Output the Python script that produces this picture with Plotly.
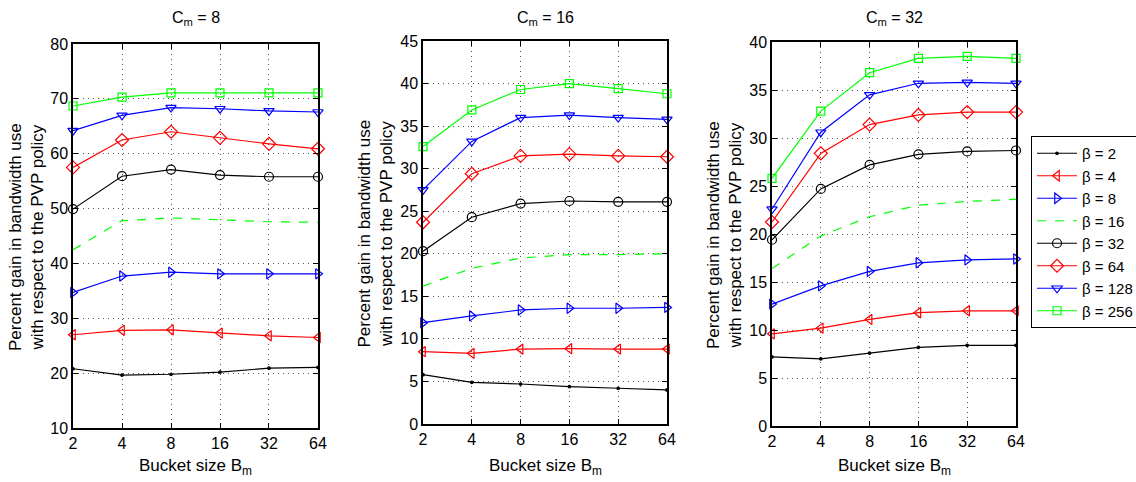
import math
import plotly.graph_objects as go

W, H = 1136, 482

bucket = [2, 4, 8, 16, 32, 64]
betas = ["β = 2", "β = 4", "β = 8", "β = 16", "β = 32", "β = 64", "β = 128", "β = 256"]

cm8 = {
    "β = 2":   [20.8, 19.65, 19.8, 20.2, 20.9, 21.05],
    "β = 4":   [27.0, 27.8, 27.9, 27.3, 26.8, 26.5],
    "β = 8":   [34.7, 37.7, 38.4, 38.1, 38.1, 38.1],
    "β = 16":  [42.5, 47.8, 48.3, 47.9, 47.6, 47.5],
    "β = 32":  [49.9, 55.9, 57.1, 56.1, 55.8, 55.8],
    "β = 64":  [57.5, 62.5, 64.0, 62.9, 61.8, 60.9],
    "β = 128": [64.2, 67.0, 68.4, 68.2, 67.8, 67.6],
    "β = 256": [68.7, 70.3, 71.1, 71.1, 71.1, 71.1],
}
cm16 = {
    "β = 2":   [5.8, 4.9, 4.7, 4.4, 4.2, 4.0],
    "β = 4":   [8.5, 8.3, 8.8, 8.85, 8.8, 8.8],
    "β = 8":   [11.9, 12.7, 13.4, 13.6, 13.6, 13.7],
    "β = 16":  [16.2, 18.3, 19.5, 19.9, 19.9, 20.0],
    "β = 32":  [20.3, 24.3, 25.9, 26.2, 26.1, 26.1],
    "β = 64":  [23.7, 29.4, 31.5, 31.7, 31.5, 31.4],
    "β = 128": [27.5, 33.2, 36.0, 36.3, 36.0, 35.8],
    "β = 256": [32.6, 36.9, 39.3, 40.0, 39.4, 38.8],
}
cm32 = {
    "β = 2":   [7.2, 7.0, 7.6, 8.2, 8.4, 8.4],
    "β = 4":   [9.6, 10.2, 11.1, 11.8, 12.0, 12.0],
    "β = 8":   [12.7, 14.6, 16.1, 17.0, 17.3, 17.4],
    "β = 16":  [16.4, 19.8, 21.8, 23.0, 23.4, 23.6],
    "β = 32":  [19.4, 24.7, 27.2, 28.3, 28.6, 28.7],
    "β = 64":  [21.25, 28.4, 31.4, 32.4, 32.7, 32.7],
    "β = 128": [22.6, 30.6, 34.5, 35.7, 35.8, 35.7],
    "β = 256": [25.8, 32.8, 36.8, 38.3, 38.5, 38.3],
}
panels = [cm8, cm16, cm32]
panel_titles = ["C<sub>m</sub> = 8", "C<sub>m</sub> = 16", "C<sub>m</sub> = 32"]
y_ranges = [[10, 80], [0, 45], [0, 40]]
y_dticks = [10, 5, 5]

styles = {
    "β = 2":   dict(color="#000000", symbol="circle", size=2.5, dash="solid"),
    "β = 4":   dict(color="#FF0000", symbol="triangle-left-open", size=9, dash="solid"),
    "β = 8":   dict(color="#0000FF", symbol="triangle-right-open", size=9, dash="solid"),
    "β = 16":  dict(color="#00FF00", symbol=None, size=0, dash="dash"),
    "β = 32":  dict(color="#000000", symbol="circle-open", size=9, dash="solid"),
    "β = 64":  dict(color="#FF0000", symbol="diamond-open", size=10, dash="solid"),
    "β = 128": dict(color="#0000FF", symbol="triangle-down-open", size=9, dash="solid"),
    "β = 256": dict(color="#00FF00", symbol="square-open", size=8, dash="solid"),
}

# pixel boxes of plot areas: (left, right, top, bottom)
boxes = [(73, 318, 44, 428), (423, 667, 41, 424), (772, 1016, 42, 426)]
ytitle_x = [26, 375, 724]

def px_x(p):
    return p / W

def px_y(p):
    return 1 - p / H

fig = go.Figure()
FONT = "Liberation Sans, Arial, sans-serif"
xr = [math.log10(bucket[0]) - 1e-4, math.log10(bucket[-1]) + 1e-4]

for i, (data, box) in enumerate(zip(panels, boxes)):
    xa = "x" if i == 0 else f"x{i+1}"
    ya = "y" if i == 0 else f"y{i+1}"
    for b in betas:
        st = styles[b]
        mode = "lines" if st["symbol"] is None else "lines+markers"
        kw = dict(
            x=bucket, y=data[b], name=b, mode=mode, xaxis=xa, yaxis=ya,
            line=dict(color=st["color"], width=1.2, dash=st["dash"]),
            showlegend=(i == 2), cliponaxis=False, legendgroup=b,
        )
        if st["symbol"] is not None:
            kw["marker"] = dict(symbol=st["symbol"], size=st["size"], color=st["color"],
                                line=dict(color=st["color"], width=1.2))
        fig.add_trace(go.Scatter(**kw))

    l, r, t, bt = box
    axis_common = dict(
        showline=True, linecolor="black", linewidth=1.5, mirror="ticks",
        ticks="inside", ticklen=5, tickcolor="black", tickwidth=1,
        showgrid=True, gridcolor="#555555", griddash="1px,4px", gridwidth=1,
        zeroline=False, tickfont=dict(family=FONT, size=16, color="black"),
        automargin=False,
    )
    fig.layout[f"xaxis{'' if i == 0 else i+1}"] = dict(
        axis_common, domain=[px_x(l), px_x(r)], anchor=ya, type="log",
        range=xr, tickvals=bucket, ticktext=[str(v) for v in bucket],
    )
    fig.layout[f"yaxis{'' if i == 0 else i+1}"] = dict(
        axis_common, domain=[px_y(bt), px_y(t)], anchor=xa,
        range=y_ranges[i], dtick=y_dticks[i], tick0=0,
    )
    cx = (l + r) / 2
    fig.add_annotation(text=panel_titles[i], x=px_x(cx), y=px_y(19), xref="paper", yref="paper",
                       showarrow=False, font=dict(family=FONT, size=16, color="black"),
                       xanchor="center", yanchor="middle")
    fig.add_annotation(text="Bucket size B<sub>m</sub>", x=px_x(cx), y=px_y(467), xref="paper",
                       yref="paper", showarrow=False,
                       font=dict(family=FONT, size=17, color="black"),
                       xanchor="center", yanchor="middle")
    fig.add_annotation(text="Percent gain in bandwidth use<br>with respect to the PVP policy",
                       x=px_x(ytitle_x[i]), y=px_y((t + bt) / 2 + 1), xref="paper", yref="paper",
                       showarrow=False, textangle=-90,
                       font=dict(family=FONT, size=17, color="black"),
                       xanchor="center", yanchor="middle")

fig.update_layout(
    width=W, height=H, margin=dict(l=0, r=0, t=0, b=0, autoexpand=False),
    paper_bgcolor="white", plot_bgcolor="white",
    legend=dict(x=px_x(1031), y=px_y(136), xanchor="left", yanchor="top",
                bordercolor="black", borderwidth=1, bgcolor="white",
                font=dict(family=FONT, size=15, color="black"),
                tracegroupgap=0, itemwidth=40),
)

fig.write_html("out.html")
